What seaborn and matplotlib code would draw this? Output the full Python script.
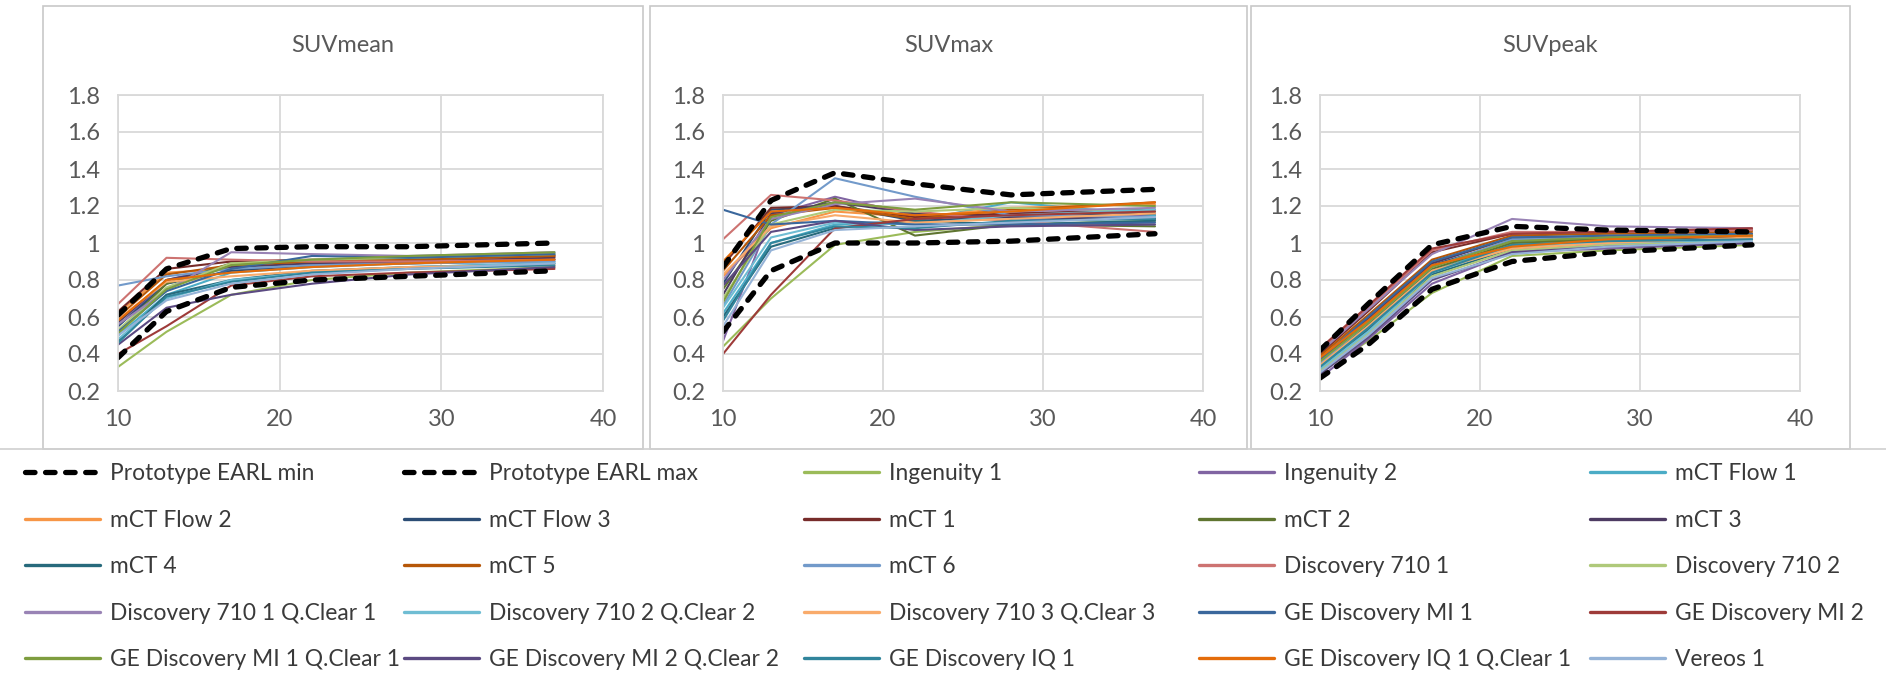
import pandas as pd
import matplotlib.pyplot as plt
import seaborn as sns
from matplotlib.lines import Line2D
from matplotlib.patches import Rectangle

# Diámetros de las esferas (mm) y paneles
diametros = [10, 13, 17, 22, 28, 37]
paneles = ['SUVmean', 'SUVmax', 'SUVpeak']
y_ticks = [0.2, 0.4, 0.6, 0.8, 1.0, 1.2, 1.4, 1.6, 1.8]
y_etiquetas = ['0.2', '0.4', '0.6', '0.8', '1', '1.2', '1.4', '1.6', '1.8']
x_ticks = [10, 20, 30, 40]

# Límites EARL
earl_min = {
    'SUVmean': [0.38, 0.63, 0.76, 0.80, 0.82, 0.85],
    'SUVmax': [0.52, 0.85, 1.00, 1.00, 1.01, 1.05],
    'SUVpeak': [0.27, 0.45, 0.75, 0.90, 0.95, 0.99],
}
earl_max = {
    'SUVmean': [0.61, 0.86, 0.97, 0.98, 0.98, 1.00],
    'SUVmax': [0.87, 1.23, 1.38, 1.32, 1.26, 1.29],
    'SUVpeak': [0.42, 0.67, 0.99, 1.09, 1.07, 1.06],
}

equipos = ['Ingenuity 1', 'Ingenuity 2', 'mCT Flow 1', 'mCT Flow 2', 'mCT Flow 3',
           'mCT 1', 'mCT 2', 'mCT 3', 'mCT 4', 'mCT 5', 'mCT 6',
           'Discovery 710 1', 'Discovery 710 2', 'Discovery 710 1 Q.Clear 1',
           'Discovery 710 2 Q.Clear 2', 'Discovery 710 3 Q.Clear 3',
           'GE Discovery MI 1', 'GE Discovery MI 2', 'GE Discovery MI 1 Q.Clear 1',
           'GE Discovery MI 2 Q.Clear 2', 'GE Discovery IQ 1',
           'GE Discovery IQ 1 Q.Clear 1', 'Vereos 1']
colores = ['#9BBB59', '#8064A2', '#4BACC6', '#F79646', '#2C4D75',
           '#772C2A', '#5F7530', '#4D3B62', '#276A7C', '#B65708', '#729ACA',
           '#CD7371', '#AFC97A', '#9983B5', '#6FBDD3', '#F9AB6B',
           '#3A679C', '#9E3B39', '#7E9D3F', '#5B4A82', '#31859C',
           '#E46C0A', '#95B3D7']

suvmean = [
    [0.33, 0.52, 0.72, 0.80, 0.84, 0.87],
    [0.55, 0.80, 0.88, 0.90, 0.91, 0.93],
    [0.50, 0.72, 0.84, 0.87, 0.89, 0.90],
    [0.62, 0.84, 0.86, 0.88, 0.90, 0.92],
    [0.55, 0.78, 0.85, 0.88, 0.89, 0.91],
    [0.63, 0.86, 0.90, 0.91, 0.92, 0.93],
    [0.52, 0.78, 0.89, 0.90, 0.92, 0.94],
    [0.57, 0.80, 0.87, 0.89, 0.90, 0.92],
    [0.47, 0.72, 0.80, 0.85, 0.87, 0.89],
    [0.60, 0.83, 0.88, 0.90, 0.91, 0.93],
    [0.77, 0.82, 0.86, 0.88, 0.89, 0.90],
    [0.67, 0.92, 0.91, 0.90, 0.90, 0.91],
    [0.53, 0.76, 0.89, 0.91, 0.92, 0.94],
    [0.56, 0.74, 0.95, 0.94, 0.93, 0.95],
    [0.48, 0.70, 0.80, 0.84, 0.87, 0.89],
    [0.59, 0.79, 0.82, 0.85, 0.87, 0.88],
    [0.52, 0.74, 0.86, 0.93, 0.92, 0.94],
    [0.40, 0.55, 0.77, 0.82, 0.84, 0.86],
    [0.51, 0.75, 0.88, 0.91, 0.93, 0.95],
    [0.45, 0.65, 0.72, 0.78, 0.83, 0.87],
    [0.46, 0.71, 0.79, 0.84, 0.86, 0.88],
    [0.58, 0.80, 0.84, 0.87, 0.89, 0.91],
    [0.50, 0.69, 0.78, 0.83, 0.86, 0.89],
]
suvmax = [
    [0.44, 0.70, 0.99, 1.06, 1.10, 1.12],
    [0.47, 1.15, 1.25, 1.15, 1.12, 1.15],
    [0.62, 1.00, 1.10, 1.12, 1.22, 1.15],
    [0.82, 1.08, 1.17, 1.14, 1.19, 1.21],
    [0.78, 1.18, 1.20, 1.12, 1.14, 1.16],
    [0.88, 1.19, 1.20, 1.14, 1.16, 1.18],
    [0.75, 1.12, 1.24, 1.04, 1.10, 1.09],
    [0.72, 1.16, 1.22, 1.16, 1.14, 1.13],
    [0.60, 0.98, 1.08, 1.12, 1.10, 1.12],
    [0.85, 1.15, 1.19, 1.13, 1.18, 1.22],
    [0.66, 1.10, 1.35, 1.25, 1.15, 1.14],
    [1.02, 1.26, 1.23, 1.17, 1.12, 1.06],
    [0.70, 1.10, 1.18, 1.17, 1.19, 1.17],
    [0.80, 1.13, 1.21, 1.24, 1.17, 1.19],
    [0.65, 1.03, 1.11, 1.10, 1.15, 1.18],
    [0.83, 1.09, 1.15, 1.11, 1.13, 1.16],
    [1.18, 1.10, 1.12, 1.10, 1.10, 1.11],
    [0.40, 0.72, 1.08, 1.13, 1.15, 1.17],
    [0.68, 1.14, 1.22, 1.18, 1.22, 1.20],
    [0.77, 1.06, 1.12, 1.07, 1.09, 1.10],
    [0.58, 1.00, 1.09, 1.08, 1.12, 1.13],
    [0.90, 1.17, 1.19, 1.15, 1.17, 1.22],
    [0.55, 0.96, 1.07, 1.09, 1.11, 1.14],
]
suvpeak = [
    [0.30, 0.47, 0.73, 0.93, 0.96, 0.99],
    [0.27, 0.48, 0.78, 0.95, 0.97, 1.00],
    [0.33, 0.55, 0.85, 0.99, 1.01, 1.02],
    [0.38, 0.60, 0.90, 1.02, 1.04, 1.05],
    [0.36, 0.58, 0.88, 1.01, 1.02, 1.03],
    [0.40, 0.63, 0.95, 1.05, 1.06, 1.07],
    [0.34, 0.56, 0.86, 1.00, 1.02, 1.04],
    [0.37, 0.59, 0.89, 1.03, 1.03, 1.04],
    [0.32, 0.53, 0.83, 0.97, 1.00, 1.02],
    [0.39, 0.61, 0.91, 1.04, 1.05, 1.06],
    [0.35, 0.57, 0.87, 1.02, 1.03, 1.04],
    [0.42, 0.65, 0.96, 1.06, 1.06, 1.07],
    [0.31, 0.51, 0.82, 0.96, 0.99, 1.01],
    [0.41, 0.64, 0.94, 1.13, 1.09, 1.08],
    [0.32, 0.52, 0.84, 0.98, 1.00, 1.02],
    [0.34, 0.55, 0.85, 0.97, 1.00, 1.03],
    [0.37, 0.60, 0.90, 1.03, 1.04, 1.05],
    [0.43, 0.66, 0.97, 1.05, 1.06, 1.08],
    [0.36, 0.57, 0.87, 1.01, 1.03, 1.04],
    [0.29, 0.49, 0.80, 0.95, 0.98, 1.00],
    [0.33, 0.54, 0.84, 0.99, 1.01, 1.02],
    [0.38, 0.58, 0.88, 0.98, 1.02, 1.04],
    [0.30, 0.50, 0.81, 0.94, 0.98, 1.01],
]
valores = {'SUVmean': suvmean, 'SUVmax': suvmax, 'SUVpeak': suvpeak}

# Tabla larga para seaborn
filas = []
for p in paneles:
    for eq, serie in zip(equipos, valores[p]):
        for d, v in zip(diametros, serie):
            filas.append({'panel': p, 'equipo': eq, 'diametro': d, 'valor': v})
df = pd.DataFrame(filas)
paleta = dict(zip(equipos, colores))

sns.set_theme(style='white')
plt.rcParams['font.family'] = ['Lato', 'DejaVu Sans']

W, H = 1886, 674
fig = plt.figure(figsize=(W / 100, H / 100), dpi=100)

gris_txt = '#595959'
gris_linea = '#D9D9D9'
discontinua = (0, (1.8, 2.0))

# Marcos de cada gráfico (px)
cajas = [(43, 643), (650, 1247), (1251, 1850)]
areas = [(118, 603), (723, 1203), (1320, 1800)]
caja_top, caja_bot = 6, 449
area_top, area_bot = 95, 391

fig.add_artist(Line2D([0, 1], [1 - caja_bot / H] * 2, color='#D0D0D0', lw=1.2,
                      transform=fig.transFigure))

for p, (cx0, cx1), (ax0, ax1) in zip(paneles, cajas, areas):
    fig.add_artist(Rectangle((cx0 / W, 1 - caja_bot / H), (cx1 - cx0) / W,
                             (caja_bot - caja_top) / H, transform=fig.transFigure,
                             facecolor='white', edgecolor='#C8C8C8', lw=1.2, zorder=0))
    ax = fig.add_axes([ax0 / W, 1 - area_bot / H, (ax1 - ax0) / W,
                       (area_bot - area_top) / H])
    sns.lineplot(data=df[df['panel'] == p], x='diametro', y='valor', hue='equipo',
                 hue_order=equipos, palette=paleta, lw=1.5, legend=False,
                 estimator=None, sort=False, ax=ax)
    sns.lineplot(x=diametros, y=earl_min[p], color='black', lw=3.8,
                 linestyle=discontinua, dash_capstyle='round', ax=ax)
    sns.lineplot(x=diametros, y=earl_max[p], color='black', lw=3.8,
                 linestyle=discontinua, dash_capstyle='round', ax=ax)
    ax.set_xlim(10, 40)
    ax.set_ylim(0.2, 1.8)
    ax.set_xticks(x_ticks)
    ax.set_xticklabels([str(t) for t in x_ticks])
    ax.set_yticks(y_ticks)
    ax.set_yticklabels(y_etiquetas)
    ax.grid(True, color=gris_linea, lw=1.3)
    ax.set_axisbelow(True)
    for s in ax.spines.values():
        s.set_color(gris_linea)
        s.set_linewidth(1.3)
    ax.tick_params(length=0, labelsize=17, labelcolor=gris_txt, pad=13)
    ax.set_xlabel('')
    ax.set_ylabel('')
    fig.text((cx0 + cx1) / 2 / W, 1 - 45 / H, p, ha='center', va='center',
             fontsize=17, color=gris_txt)

# Leyenda en 5 columnas
etiquetas = ['Prototype EARL min', 'Prototype EARL max'] + equipos
manijas = [Line2D([], [], color='black', lw=3.8, linestyle=discontinua,
                  dash_capstyle='round') for _ in range(2)]
manijas += [Line2D([], [], color=c, lw=2.4) for c in colores]
col_x = [25, 404, 804, 1199, 1590]
for j, x0 in enumerate(col_x):
    idx = list(range(j, len(etiquetas), 5))
    leg = fig.legend([manijas[i] for i in idx], [etiquetas[i] for i in idx],
                     loc='upper left', bbox_to_anchor=(x0 / W, 1 - 463 / H),
                     frameon=False, fontsize=16.4, handlelength=3.3,
                     handletextpad=0.42, labelspacing=1.12, borderpad=0,
                     borderaxespad=0)
    for t in leg.get_texts():
        t.set_color('#3A3A3A')

fig.savefig('out.png', dpi=100)
